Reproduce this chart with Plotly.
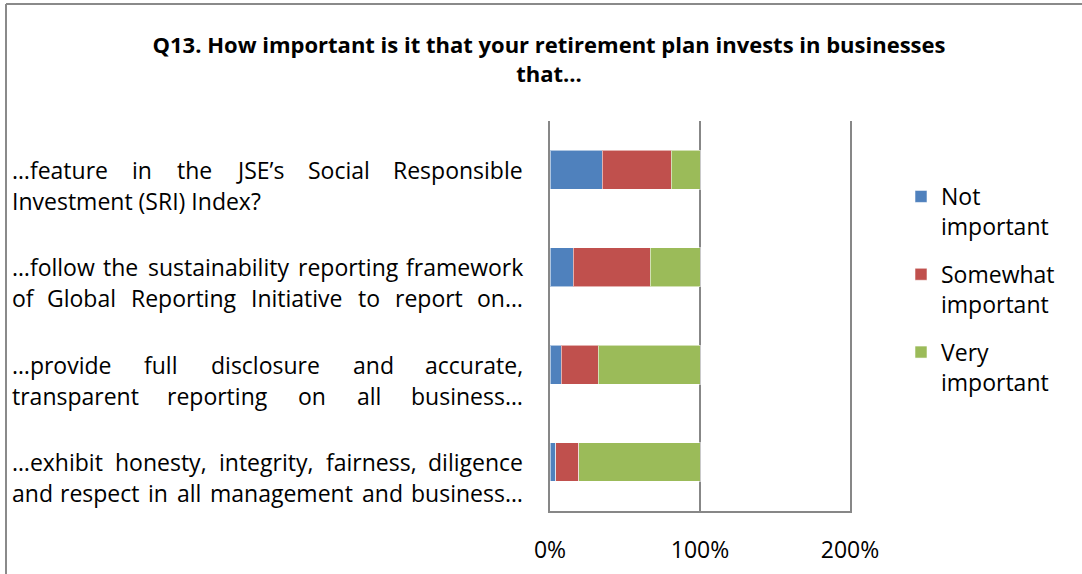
import plotly.graph_objects as go

# Survey question Q13: share of respondents per importance level
label_lines = [
    ["…feature in the JSE’s Social Responsible", "Investment (SRI) Index?"],
    ["…follow the sustainability reporting framework", "of Global Reporting Initiative to report on…"],
    ["…provide full disclosure and accurate,", "transparent reporting on all business…"],
    ["…exhibit honesty, integrity, fairness, diligence", "and respect in all management and business…"],
]
categories = [" ".join(lines) for lines in label_lines]

not_important = [34.7, 15.6, 7.6, 3.8]
somewhat_important = [46.0, 51.1, 24.4, 15.5]
very_important = [19.3, 33.3, 68.0, 80.7]

series_names = ["Not<br>important", "Somewhat<br>important", "Very<br>important"]
series_colors = ["#4F81BD", "#C0504D", "#9BBB59"]

x_ticks = [0, 100, 200]
x_tick_labels = ["0%", "100%", "200%"]

FONT = "Open Sans"
LABEL_SIZE = 23
W, H = 1082, 574
PLOT_L, PLOT_R, PLOT_T, PLOT_B = 550, 850, 121, 511

# approximate advance widths (em) used to justify the wrapped category labels
_widths = {
    "a": .556, "b": .613, "c": .480, "d": .613, "e": .561, "f": .336, "g": .546,
    "h": .614, "i": .258, "j": .258, "k": .529, "l": .258, "m": .930, "n": .614,
    "o": .602, "p": .613, "q": .613, "r": .408, "s": .477, "t": .353, "u": .614,
    "v": .501, "w": .778, "x": .524, "y": .501, "z": .463,
    "I": .279, "J": .266, "S": .549, "E": .556, "R": .618, "G": .727, "N": .752,
    "…": .82, ".": .27, ",": .25, "’": .16, "(": .30, ")": .30, "?": .43,
}


def text_width(word, size):
    return sum(_widths.get(ch, .62) for ch in word) * size


def px_to_paper_x(px):
    return (px - PLOT_L) / (PLOT_R - PLOT_L)


def px_to_paper_y(py):
    return (PLOT_B - py) / (PLOT_B - PLOT_T)


fig = go.Figure()
for name, vals, col in zip(series_names, [not_important, somewhat_important, very_important], series_colors):
    fig.add_trace(go.Bar(
        y=categories, x=vals, name=name, orientation="h",
        marker=dict(color=col, line=dict(color="rgba(255,255,255,0.55)", width=1)),
        legendgroup=name,
    ))

# category labels: justified lines to the left of the plot area
annotations = []
LEFT_PX, RIGHT_PX = 10, 525
LINE_STEP = 31
for cat, lines in zip(categories, label_lines):
    for li, line in enumerate(lines):
        last = li == len(lines) - 1
        justify = not last or line.endswith("…")
        words = line.split(" ")
        yshift = -LINE_STEP * li
        if not justify or len(words) == 1:
            annotations.append(dict(
                x=px_to_paper_x(LEFT_PX), xref="paper", y=cat, yref="y", yshift=yshift,
                text=line, showarrow=False, xanchor="left", yanchor="middle",
                font=dict(family=FONT, size=LABEL_SIZE, color="#000000"),
            ))
            continue
        widths = [text_width(w, LABEL_SIZE) for w in words]
        gap = (RIGHT_PX - LEFT_PX - sum(widths)) / (len(words) - 1)
        pos = LEFT_PX
        for wi, (word, ww) in enumerate(zip(words, widths)):
            if wi == 0:
                x, anchor = LEFT_PX, "left"
            elif wi == len(words) - 1:
                x, anchor = RIGHT_PX, "right"
            else:
                x, anchor = pos + ww / 2, "center"
            annotations.append(dict(
                x=px_to_paper_x(x), xref="paper", y=cat, yref="y", yshift=yshift,
                text=word, showarrow=False, xanchor=anchor, yanchor="middle",
                font=dict(family=FONT, size=LABEL_SIZE, color="#000000"),
            ))
            pos += ww + gap

# outer chart border (left and top edges)
border = "#8A8A8A"
shapes = [
    dict(type="line", xref="paper", yref="paper",
         x0=px_to_paper_x(6), x1=px_to_paper_x(6), y0=px_to_paper_y(4), y1=px_to_paper_y(600),
         line=dict(color=border, width=2)),
    dict(type="line", xref="paper", yref="paper",
         x0=px_to_paper_x(6), x1=px_to_paper_x(1100), y0=px_to_paper_y(4), y1=px_to_paper_y(4),
         line=dict(color=border, width=2)),
]

axis_grey = "#878787"
fig.update_layout(
    width=W, height=H,
    margin=dict(l=PLOT_L, r=W - PLOT_R, t=PLOT_T, b=H - PLOT_B, pad=0, autoexpand=False),
    paper_bgcolor="white", plot_bgcolor="white",
    barmode="stack", bargap=0.6,
    font=dict(family=FONT, size=LABEL_SIZE, color="#000000"),
    title=dict(
        text="<b>Q13. How important is it that your retirement plan invests in businesses<br>that...</b>",
        x=549 / W, xanchor="center", xref="container",
        y=1 - 53 / H, yanchor="top", yref="container",
        font=dict(family=FONT, size=22, color="#000000"),
    ),
    xaxis=dict(
        range=[0, 200], tickvals=x_ticks, ticktext=x_tick_labels,
        showgrid=True, gridcolor=axis_grey, gridwidth=2,
        showline=True, linecolor=axis_grey, linewidth=2,
        zeroline=False, ticks="", ticklabelstandoff=17, automargin=False,
        tickfont=dict(family=FONT, size=LABEL_SIZE, color="#000000"),
        fixedrange=True,
    ),
    yaxis=dict(
        categoryorder="array", categoryarray=categories[::-1],
        showticklabels=False, showgrid=False, zeroline=False,
        showline=True, mirror=True, linecolor=axis_grey, linewidth=2,
        automargin=False, fixedrange=True,
    ),
    legend=dict(
        x=px_to_paper_x(901), y=px_to_paper_y(175), xanchor="left", yanchor="top",
        traceorder="grouped", valign="top", tracegroupgap=15, itemwidth=30,
        font=dict(family=FONT, size=LABEL_SIZE, color="#000000"),
        bgcolor="rgba(0,0,0,0)",
    ),
    annotations=annotations,
    shapes=shapes,
    showlegend=True,
)

fig.write_html("out.html", config={"displayModeBar": False})
